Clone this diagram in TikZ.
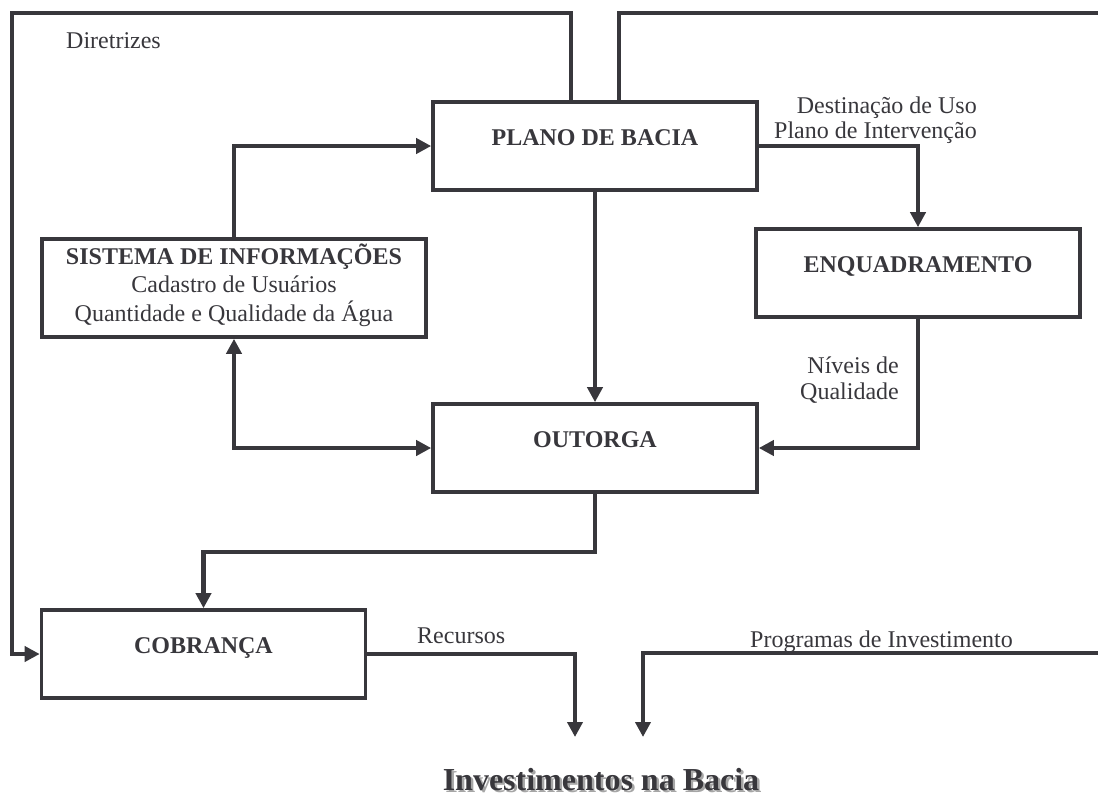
\documentclass[tikz,border=0pt]{standalone}
\usepackage{fontspec}
\setmainfont{Liberation Serif}
\usetikzlibrary{arrows.meta}
\definecolor{ink}{RGB}{56,55,60}

\begin{document}
\begin{tikzpicture}[x=1pt, y=-1pt, every node/.style={text=ink}]
    % Styles
    \tikzstyle{box} = [rectangle, draw=ink, line width=3.6pt, minimum width=324pt, inner ysep=0pt, text height=43pt, text depth=45pt, font=\bfseries\fontsize{24}{28}\selectfont]
    \tikzstyle{wire} = [draw=ink, line width=4.6pt]
    \tikzstyle{arrow} = [wire, -{Triangle[length=15pt, width=15pt]}]
    \tikzstyle{note} = [inner sep=0pt, font=\fontsize{24}{26}\selectfont]

    \useasboundingbox (0,0) rectangle (1098,796);

    % Nodes
    \node[box] (PB) at (595,146) {PLANO DE BACIA};
    \node[box] (EQ) at (918,273) {ENQUADRAMENTO};
    \node[box] (OT) at (595,448) {OUTORGA};
    \node[box] (CB) at (203.5,654) {COBRANÇA};
    \node[box, minimum width=384pt, align=center, text height=82pt, text depth=16pt, font=\fontsize{24}{28.5}\selectfont] (SI) at (234,288)
        {\textbf{SISTEMA DE INFORMAÇÕES}\\Cadastro de Usuários\\Quantidade e Qualidade da Água};
    \node[anchor=base, inner sep=0pt, font=\bfseries\fontsize{32}{34}\selectfont] (IB) at (601,790)
        {\rlap{\hspace{2.5pt}\raisebox{-2.5pt}{\color{black!35}Investimentos na Bacia}}Investimentos na Bacia};

    % Free ends
    \coordinate (E1) at (1098,13);
    \coordinate (E2) at (1098,653);
    \coordinate (R1) at (575,737);
    \coordinate (R2) at (643,737);

    % Arrows
    \draw[arrow] ([xshift=-24pt]PB.north) |- (12,13) |- (CB.west);
    \draw[wire] ([xshift=24pt]PB.north) |- (E1);
    \draw[arrow] (PB.east) -| (EQ.north);
    \draw[arrow] (PB) -- (OT);
    \draw[arrow] (SI.north) |- (PB.west);
    \draw[arrow, {Triangle[length=15pt, width=15pt]}-{Triangle[length=15pt, width=15pt]}] (SI.south) |- (OT.west);
    \draw[arrow] (EQ.south) |- (OT.east);
    \draw[arrow] (OT.south) -- ++(0,58) -| (CB.north);
    \draw[arrow] (CB.east) -| (R1);
    \draw[arrow] (E2) -| (R2);

    % Labels
    \node[note, anchor=base west] (DI) at (66,48) {Diretrizes};
    \node[note, align=right, anchor=base east, font=\fontsize{24}{25}\selectfont] (DU) at (977,138) {Destinação de Uso\\Plano de Intervenção};
    \node[note, align=right, anchor=base east] (NQ) at (899,399) {Níveis de\\Qualidade};
    \node[note, anchor=base west] (RC) at (417,643) {Recursos};
    \node[note, anchor=base west] (PI) at (750,647) {Programas de Investimento};
\end{tikzpicture}
\end{document}
